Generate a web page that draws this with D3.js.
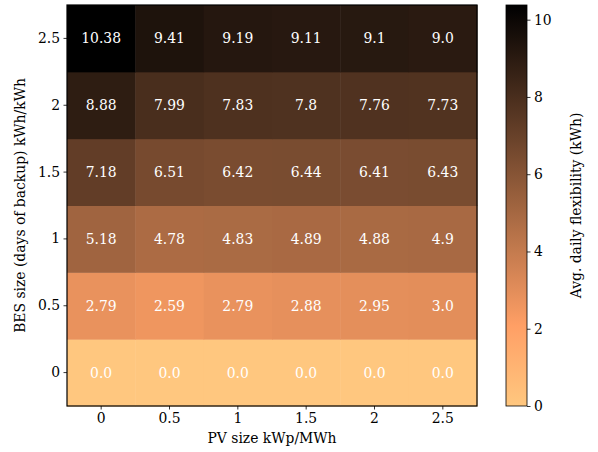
<!DOCTYPE html>
<html><head><meta charset="utf-8">
<script src="https://cdn.jsdelivr.net/npm/d3@7"></script>
<style>body{margin:0;background:#fff}svg text{font-family:"DejaVu Serif",serif;}</style>
</head><body><svg id="c" width="598" height="452"></svg>
<script>
const pvSizes = ["0","0.5","1","1.5","2","2.5"];
const besSizes = ["0","0.5","1","1.5","2","2.5"];
// rows indexed by BES size (0 .. 2.5), columns by PV size
const row0 = [0.0,0.0,0.0,0.0,0.0,0.0];
const row05 = [2.79,2.59,2.79,2.88,2.95,3.0];
const row1 = [5.18,4.78,4.83,4.89,4.88,4.9];
const row15 = [7.18,6.51,6.42,6.44,6.41,6.43];
const row2 = [8.88,7.99,7.83,7.8,7.76,7.73];
const row25 = [10.38,9.41,9.19,9.11,9.1,9.0];
const cbTicks = [0,2,4,6,8,10];
const labels = ["0.0","0.0","0.0","0.0","0.0","0.0",
  "2.79","2.59","2.79","2.88","2.95","3.0",
  "5.18","4.78","4.83","4.89","4.88","4.9",
  "7.18","6.51","6.42","6.44","6.41","6.43",
  "8.88","7.99","7.83","7.8","7.76","7.73",
  "10.38","9.41","9.19","9.11","9.1","9.0"];

const rows = [row0,row05,row1,row15,row2,row25];
const vmin = 0, vmax = d3.max(rows.flat());
const FS = 13.9;

function copperR(v){
  const x = 1 - (v - vmin)/(vmax - vmin);
  const r = Math.min(1, 1.25*x), g = 0.7812*x, b = 0.4975*x;
  return d3.rgb(r*255, g*255, b*255).formatHex();
}

const svg = d3.select("#c");
const L=67, R=477, T=5, B=406;
const x = d3.scaleBand().domain(pvSizes).range([L,R]).padding(0);
const y = d3.scaleBand().domain(besSizes).range([B,T]).padding(0);

const cells = [];
rows.forEach((r,i)=>r.forEach((v,j)=>cells.push({bes:besSizes[i],pv:pvSizes[j],v,lab:labels[i*6+j]})));

svg.append("g").selectAll("rect").data(cells).join("rect")
  .attr("x",d=>x(d.pv)).attr("y",d=>y(d.bes))
  .attr("width",x.bandwidth()+0.5).attr("height",y.bandwidth()+0.5)
  .attr("fill",d=>copperR(d.v));

svg.append("g").selectAll("text").data(cells).join("text")
  .attr("x",d=>x(d.pv)+x.bandwidth()/2).attr("y",d=>y(d.bes)+y.bandwidth()/2)
  .attr("text-anchor","middle").attr("dominant-baseline","central")
  .attr("fill","#fff").attr("font-size",FS).text(d=>d.lab);

svg.append("rect").attr("x",L).attr("y",T).attr("width",R-L).attr("height",B-T)
  .attr("fill","none").attr("stroke","#000").attr("stroke-width",1.2);

const xa = svg.append("g").attr("transform",`translate(0,${B})`)
  .call(d3.axisBottom(x).tickSize(3.5).tickPadding(3.5));
const ya = svg.append("g").attr("transform",`translate(${L},0)`)
  .call(d3.axisLeft(y).tickSize(3.5).tickPadding(3.5));
[xa,ya].forEach(a=>{a.select(".domain").remove();
  a.selectAll("text").attr("font-size",FS).attr("fill","#000").attr("font-family","DejaVu Serif");
  a.selectAll("line").attr("stroke","#000").attr("stroke-width",0.8);});

svg.append("text").attr("x",(L+R)/2).attr("y",443).attr("text-anchor","middle")
  .attr("font-size",FS).text("PV size kWp/MWh");
svg.append("text").attr("transform",`translate(25,${(T+B)/2}) rotate(-90)`).attr("text-anchor","middle")
  .attr("font-size",FS).text("BES size (days of backup) kWh/kWh");

// colorbar
const CL=506, CR=527;
const cy = d3.scaleLinear().domain([vmin,vmax]).range([B,T]);
const defs = svg.append("defs");
const grad = defs.append("linearGradient").attr("id","cg").attr("x1",0).attr("y1",1).attr("x2",0).attr("y2",0);
d3.range(0,1.0001,0.02).forEach(t=>grad.append("stop").attr("offset",t).attr("stop-color",copperR(vmin+t*(vmax-vmin))));
svg.append("rect").attr("x",CL).attr("y",T).attr("width",CR-CL).attr("height",B-T).attr("fill","url(#cg)")
  .attr("stroke","#000").attr("stroke-width",0.8);
const ca = svg.append("g").attr("transform",`translate(${CR},0)`)
  .call(d3.axisRight(cy).tickValues(cbTicks).tickSize(3.5).tickPadding(3.5));
ca.select(".domain").remove();
ca.selectAll("text").attr("font-size",FS).attr("fill","#000").attr("font-family","DejaVu Serif");
ca.selectAll("line").attr("stroke","#000").attr("stroke-width",0.8);
svg.append("text").attr("transform",`translate(581,${(T+B)/2}) rotate(-90)`).attr("text-anchor","middle")
  .attr("font-size",FS).text("Avg. daily flexibility (kWh)");
</script></body></html>
